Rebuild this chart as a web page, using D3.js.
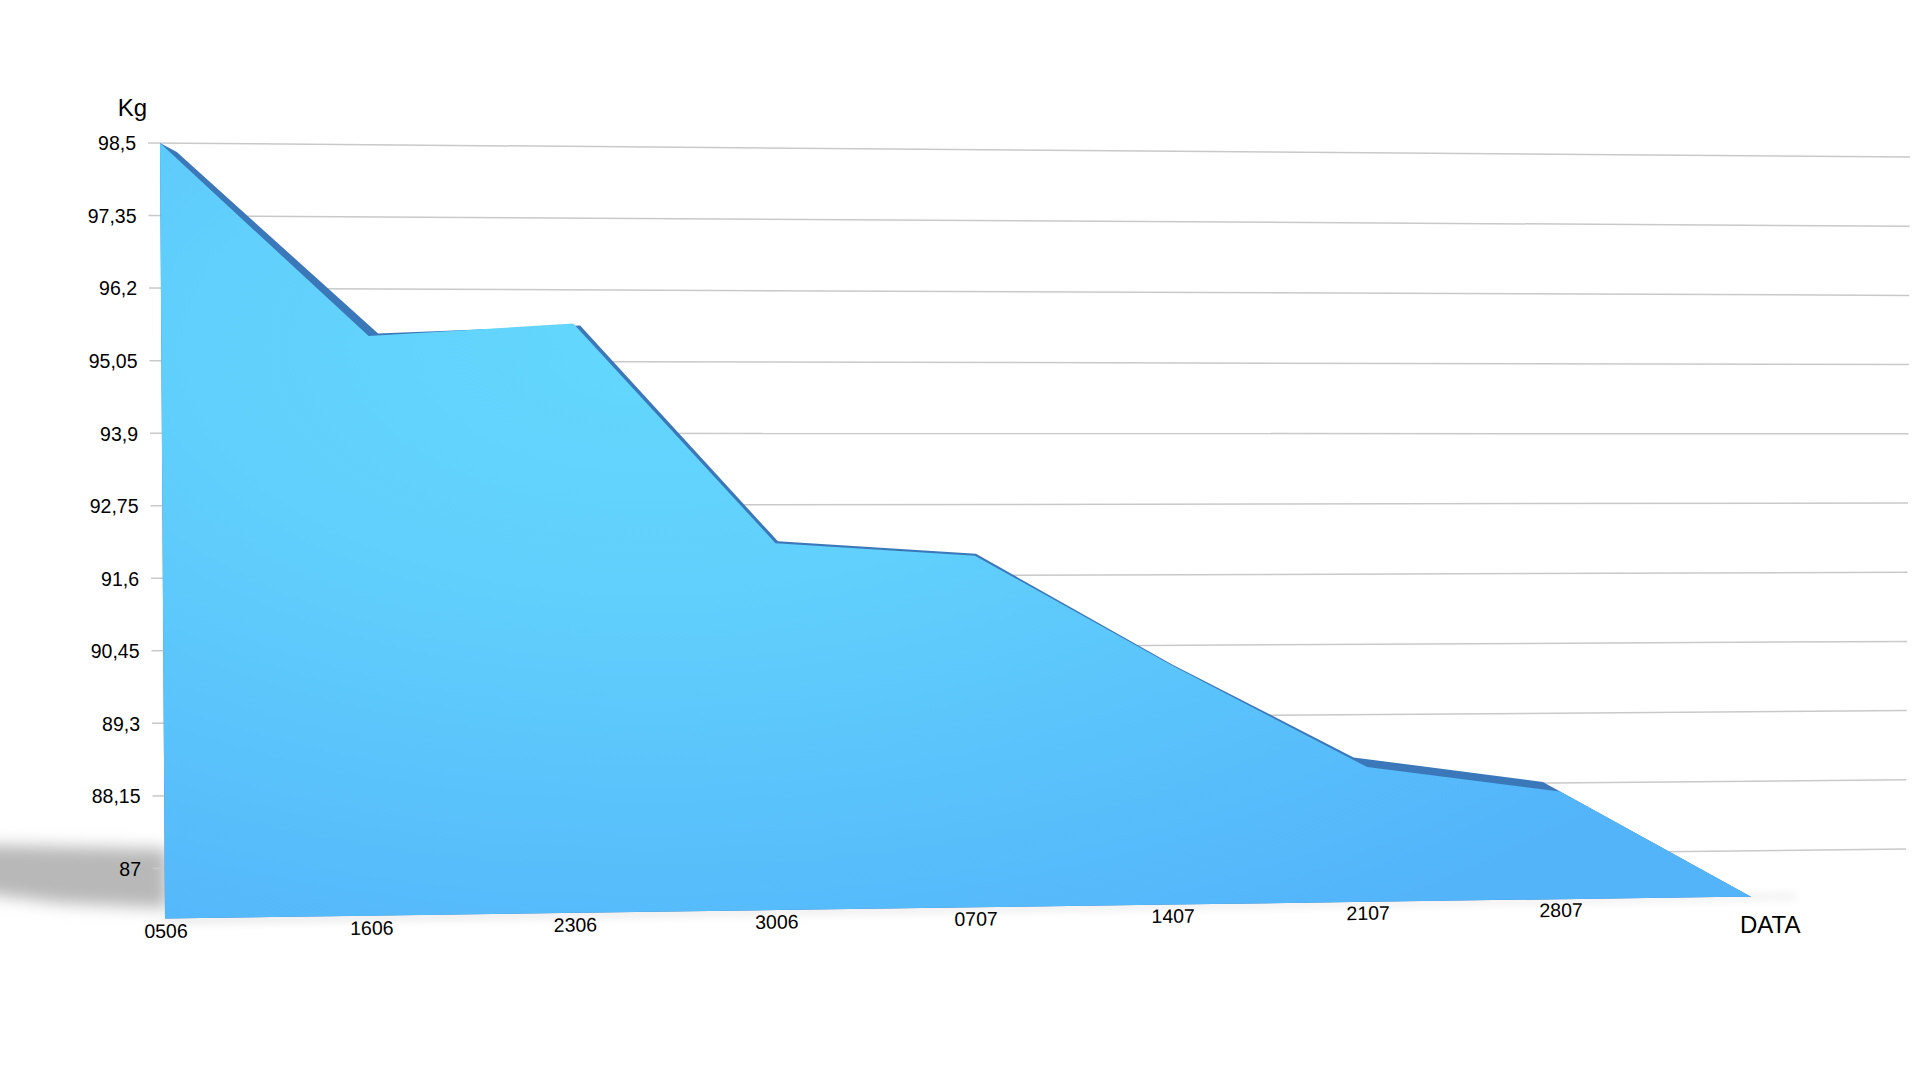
<!DOCTYPE html>
<html><head><meta charset="utf-8">
<script src="https://d3js.org/d3.v7.min.js"></script>
<style>html,body{margin:0;padding:0;background:#fff;overflow:hidden}
text{font-family:"Liberation Sans",Arial,sans-serif;fill:#000}</style></head>
<body><svg id="c" width="1920" height="1080"></svg>
<script>
const categories=["0506","1606","2306","3006","0707","1407","2107","2807"];
const weights=[98.5,95.45,95.66,92.13,91.92,90.12,88.44,88.01,86.24];
const rearCat=[0.08,1.046,2.034,3.012,4.005,5,5.93,6.91];
const rearWeights=[98.36,95.49,95.63,92.16,91.95,90.14,88.6,88.17];
const yTicks=[98.5,97.35,96.2,95.05,93.9,92.75,91.6,90.45,89.3,88.15,87];
const yLabels=["98,5","97,35","96,2","95,05","93,9","92,75","91,6","90,45","89,3","88,15","87"];
const baseValue=86.2;

const svg=d3.select("#c");
const defs=svg.append("defs");
const grad=defs.append("radialGradient").attr("id","fill").attr("gradientUnits","userSpaceOnUse")
 .attr("cx",0).attr("cy",0).attr("r",1)
 .attr("gradientTransform","translate(650,350) scale(1300,680)");
grad.append("stop").attr("offset",0).attr("stop-color","#63d7fd");
grad.append("stop").attr("offset",0.35).attr("stop-color","#61d0fc");
grad.append("stop").attr("offset",1).attr("stop-color","#53b4fa");
defs.append("filter").attr("id","b1").attr("x","-30%").attr("y","-60%").attr("width","160%").attr("height","220%")
 .append("feGaussianBlur").attr("stdDeviation",8);
defs.append("filter").attr("id","b2").attr("x","-10%").attr("y","-300%").attr("width","120%").attr("height","700%")
 .append("feGaussianBlur").attr("stdDeviation",5);

// perspective plane built from scales
const yLeft=d3.scaleLinear().domain([98.5,87]).range([143,868.5]);
const yRight=d3.scaleLinear().domain([98.5,87]).range([157,849]);
const tOfX=d3.scaleLinear().domain([148,1910]).range([0,1]);
const yAt=(v,x)=>d3.interpolateNumber(yLeft(v),yRight(v))(tOfX(x));
const uOf=d3.scaleLinear().domain([0,8]).range([0,1]);
const xBase=d3.scaleLinear().domain([0,1]).range([165,1751]);
const k=0.044;
const xCat=i=>{const u=uOf(i);return xBase(u*(1+k)/(1+k*u));};
const lean=d3.scaleLinear().domain([baseValue,98.5]).range([0,-5]);
const xAt=(i,v)=>xCat(i)+lean(v)*Math.pow(1-uOf(i),4);
const baseY=d3.scaleLinear().domain([165,1751]).range([918.5,896.5]);
const gridL=d3.scaleLinear().domain([87,98.5]).range([153,148]);
const gridR=d3.scaleLinear().domain([87,98.5]).range([1906,1910]);

// shadows
svg.append("path").attr("filter","url(#b1)").attr("fill","#b8b8b8")
 .attr("d",d3.line()([[-60,844],[168,849],[168,908],[60,903],[-60,888]]));
svg.append("path").attr("filter","url(#b2)").attr("fill","#000").attr("opacity",.1)
 .attr("d",d3.line()([[xCat(0),baseY(xCat(0))-2],[xCat(8)+45,baseY(xCat(8))-2],[xCat(8)+45,baseY(xCat(8))+2],[xCat(0),baseY(xCat(0))+5]]));

// grid
svg.append("g").selectAll("line").data(yTicks).join("line")
 .attr("x1",d=>gridL(d)).attr("x2",d=>gridR(d))
 .attr("y1",d=>yAt(d,gridL(d))).attr("y2",d=>yAt(d,gridR(d)))
 .attr("stroke","#c9c9c9").attr("stroke-width",1.5);

// rear (dark) and front faces
const rear=[{c:0,v:weights[0]}].concat(rearCat.map((c,i)=>({c,v:rearWeights[i]})));
rear.push({c:7,v:weights[7]},{c:8,v:weights[8]});
const area=d3.area()
 .x0(d=>xCat(d.c)).y0(d=>baseY(xCat(d.c)))
 .x1(d=>xAt(d.c,d.v)).y1(d=>yAt(d.v,xAt(d.c,d.v)));
svg.append("path").datum(rear).attr("fill","#3b78b9").attr("d",area);
const front=weights.map((v,c)=>({c,v}));
svg.append("path").datum(front).attr("fill","url(#fill)").attr("d",area);

// axes
const yAxis=d3.axisLeft(yLeft).tickValues(yTicks).tickFormat((d,i)=>yLabels[i]).tickSize(0);
const gy=svg.append("g").attr("transform","translate(138,0)").call(yAxis);
gy.attr("font-family",null);
gy.select(".domain").remove();
const labelRight=d3.scaleLinear().domain([87,98.5]).range([141,136]);
gy.selectAll("text").attr("font-size",19.5).attr("x",d=>labelRight(d)-138).attr("dy","0.35em");

const labelDrop=d3.scaleLinear().domain([0,7]).range([12.5,11]);
const xAxis=d3.axisBottom(d3.scaleLinear().domain([0,7]).range([xCat(0),xCat(7)])).tickValues(d3.range(8)).tickFormat((d,i)=>categories[i]).tickSize(0);
const gx=svg.append("g").call(xAxis);
gx.attr("font-family",null);
gx.select(".domain").remove();
gx.selectAll(".tick").attr("transform",d=>`translate(${xCat(d)+1},${baseY(xCat(d))+labelDrop(d)}) rotate(-0.7)`);
gx.selectAll("text").attr("font-size",19.5).attr("y",0).attr("dy","0.35em");

svg.append("text").attr("x",132.5).attr("y",116).attr("text-anchor","middle").attr("font-size",24).text("Kg");
svg.append("text").attr("x",1740).attr("y",933).attr("font-size",24).text("DATA");
</script></body></html>
